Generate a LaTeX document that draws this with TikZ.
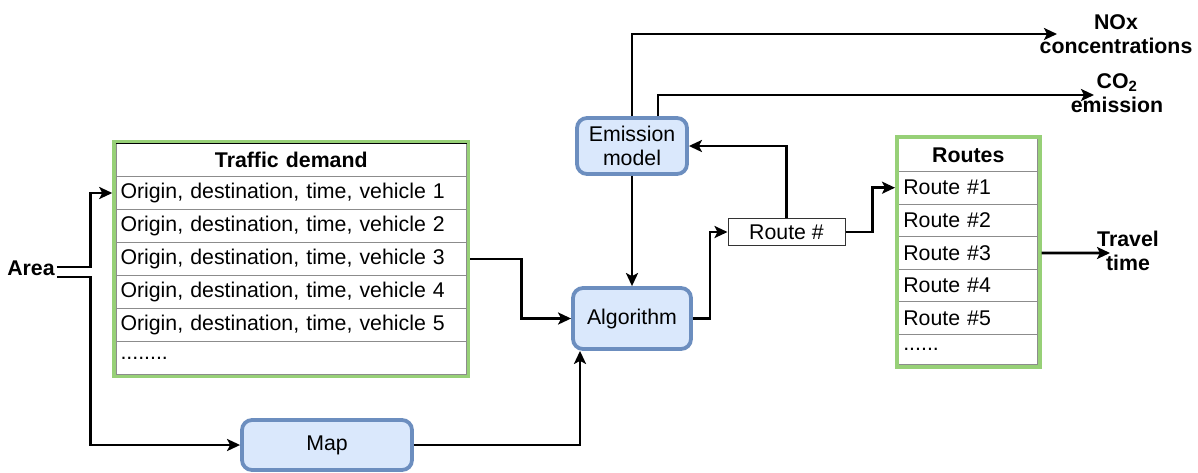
\documentclass[tikz,border=0pt]{standalone}
\usepackage{fontspec}
\setmainfont{Liberation Sans}
\usetikzlibrary{arrows.meta, positioning, fit}
\definecolor{boxblue}{HTML}{DAE8FC}
\definecolor{edgeblue}{HTML}{6C8EBF}
\definecolor{tablegreen}{HTML}{97D077}
\definecolor{rowgray}{HTML}{8C8C8C}
\newcommand{\figfont}{\fontsize{21.3pt}{24pt}\selectfont}

\begin{document}
\begin{tikzpicture}[x=1pt, y=-1pt, font=\figfont,
  flow/.style={line width=2.8pt, -{Stealth[length=13pt, width=12pt, inset=3pt]}},
  proc/.style={draw=edgeblue, fill=boxblue, line width=3.8pt, rounded corners=10pt, align=center},
  cell/.style={draw=rowgray, line width=1pt, anchor=north west, inner xsep=4.5pt, inner ysep=0pt,
    minimum height=33pt, text width=#1, align=left},
  head/.style={font=\figfont\bfseries, align=center},
  title/.style={font=\figfont\bfseries, align=center, inner sep=2pt}]
  \useasboundingbox (0,0) rectangle (1198,472);

  % input
  \node[title] (area) at (31,268) {Area};

  % traffic demand table
  \node[cell=341.5pt, head] (td-h) at (115.5,143) {Traffic demand};
  \foreach \i in {1,...,5}
    \node[cell=341.5pt] (td-\i) at (115.5,143+33*\i) {Origin, destination, time, vehicle \i};
  \node[cell=341.5pt] (td-6) at (115.5,341) {........};
  \node[draw, line width=1pt, fit=(td-h)(td-6), inner sep=0pt] (td) {};
  \node[draw=tablegreen, line width=3.5pt, fit=(td), inner sep=1pt] (demand) {};

  % processing blocks
  \node[proc, minimum width=110pt, minimum height=56pt] (emis) at (632,146) {Emission\\model};
  \node[proc, minimum width=118pt, minimum height=61pt] (algo) at (632,318.5) {Algorithm};
  \node[proc, minimum width=170pt, minimum height=50pt] (map) at (327,445) {Map};
  \node[draw=black!80, line width=1pt, fill=white, minimum width=117pt, minimum height=27pt,
    inner sep=0pt] (route) at (786.5,232) {Route \#};

  % routes table
  \node[cell=130pt, head, minimum height=32.6pt] (rt-h) at (898.3,138.3) {Routes};
  \foreach \i in {1,...,5}
    \node[cell=130pt, minimum height=32.6pt] (rt-\i) at (898.3,138.3+32.6*\i) {Route \#\i};
  \node[cell=130pt, minimum height=30pt] (rt-6) at (898.3,334.3) {......};
  \node[draw, line width=1pt, fit=(rt-h)(rt-6), inner sep=0pt] (rt) {};
  \node[draw=tablegreen, line width=3.5pt, fit=(rt), inner sep=1pt] (routes) {};

  % outputs
  \node[title] (nox) at (1116,34) {NOx\\concentrations};
  \node[title] (co2) at (1117,93) {CO\textsubscript{2}\\emission};
  \node[title] (travel) at (1128,251) {Travel\\time};
  \coordinate (nox-in) at (1057,34);
  \coordinate (co2-in) at (1094,95);
  \coordinate (travel-in) at (1110,253);

  % connections
  \draw[flow] ([yshift=1pt]area.east) -- ++(34,0) |- (demand.west |- td-1);
  \draw[flow] ([yshift=-9pt]area.east) -- ++(34,0) |- (map.west);
  \draw[flow] (demand.east |- td-3) -- ++(51,0) |- (algo.west);
  \draw[flow] (map.east) -| ([xshift=-52pt]algo.south);
  \draw[flow] (emis.south) -- (algo.north);
  \draw[flow] (algo.east) -- ++(17,0) |- (route.west);
  \draw[flow] (route.north) |- (emis.east);
  \draw[flow] (route.east) -- ++(27,0) |- (routes.west |- rt-1);
  \draw[flow] (emis.north) |- (nox-in);
  \draw[flow] ([xshift=26pt]emis.north) |- (co2-in);
  \draw[flow] (routes.east |- rt-3) -- (travel-in);
\end{tikzpicture}
\end{document}
